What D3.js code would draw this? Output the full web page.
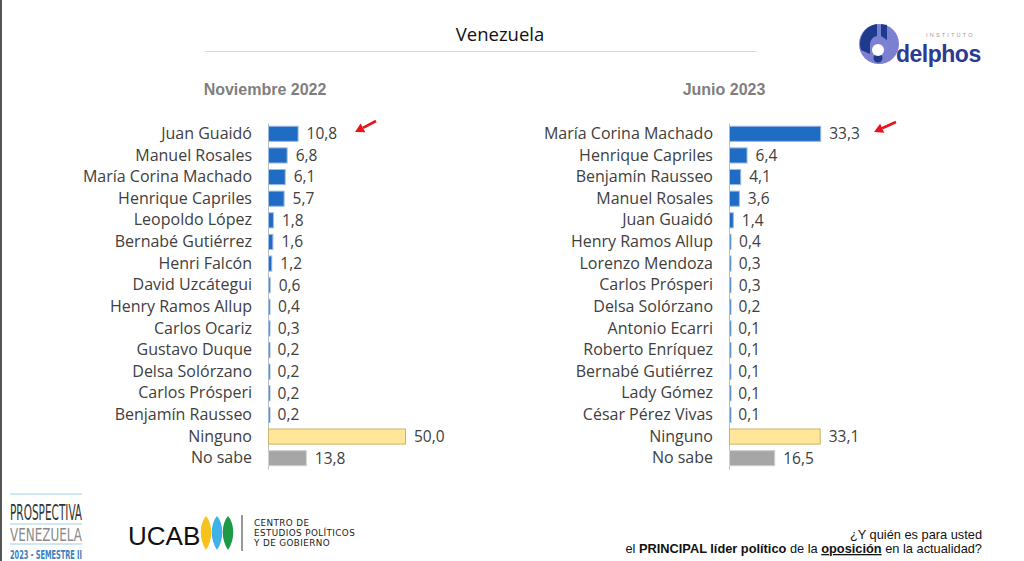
<!DOCTYPE html>
<html>
<head>
<meta charset="utf-8">
<script src="https://cdn.jsdelivr.net/npm/d3@7"></script>
<style>
  html, body { margin: 0; padding: 0; background: #fff; }
  svg { display: block; }
</style>
</head>
<body>
<svg id="chart" width="1024" height="561"></svg>
<script>
const namesNov = ["Juan Guaidó", "Manuel Rosales", "María Corina Machado", "Henrique Capriles",
  "Leopoldo López", "Bernabé Gutiérrez", "Henri Falcón", "David Uzcátegui", "Henry Ramos Allup",
  "Carlos Ocariz", "Gustavo Duque", "Delsa Solórzano", "Carlos Prósperi", "Benjamín Rausseo",
  "Ninguno", "No sabe"]
const valuesNov = [10.8, 6.8, 6.1, 5.7, 1.8, 1.6, 1.2, 0.6, 0.4, 0.3, 0.2, 0.2, 0.2, 0.2, 50.0, 13.8]

const namesJun = ["María Corina Machado", "Henrique Capriles", "Benjamín Rausseo", "Manuel Rosales",
  "Juan Guaidó", "Henry Ramos Allup", "Lorenzo Mendoza", "Carlos Prósperi", "Delsa Solórzano",
  "Antonio Ecarri", "Roberto Enríquez", "Bernabé Gutiérrez", "Lady Gómez", "César Pérez Vivas",
  "Ninguno", "No sabe"]
const valuesJun = [33.3, 6.4, 4.1, 3.6, 1.4, 0.4, 0.3, 0.3, 0.2, 0.1, 0.1, 0.1, 0.1, 0.1, 33.1, 16.5]

const panelTitles = ["Noviembre 2022", "Junio 2023"]

const svg = d3.select("#chart")
const fmt = d3.formatLocale({decimal: ",", thousands: ".", grouping: [3], currency: ["", ""]}).format(".1f")
const labelFont = "'Open Sans', 'Liberation Sans', sans-serif"

function barFill(name) {
  if (name === "Ninguno") return "#ffe699"
  if (name === "No sabe") return "#a6a6a6"
  return "#1f6cc4"
}
function barStroke(name) {
  if (name === "Ninguno") return "#c9b46e"
  if (name === "No sabe") return "#d0d0d0"
  return "#9dbbe2"
}

const x = d3.scaleLinear().domain([0, 50]).range([0, 137])

function drawPanel(names, values, x0, title, titleX) {
  const rows = names.map((n, i) => ({name: n, value: values[i]}))
  const y = d3.scaleBand().domain(names).range([123, 469]).paddingInner(0.3).paddingOuter(0.15)
  const g = svg.append("g").attr("transform", `translate(${x0},0)`)

  svg.append("text").attr("x", titleX).attr("y", 95)
    .attr("text-anchor", "middle").attr("font-family", "'Liberation Sans', Arial, sans-serif")
    .attr("font-weight", "bold").attr("font-size", 16).attr("fill", "#7f7f7f").text(title)

  const axis = g.append("g").call(d3.axisLeft(y).tickSize(0).tickPadding(16))
  axis.select(".domain").attr("stroke", "#bfbfbf").attr("stroke-width", 1)
  axis.selectAll("text").attr("font-family", labelFont).attr("font-size", 16).attr("fill", "#404040")

  g.selectAll("rect.bar").data(rows).join("rect").attr("class", "bar")
    .attr("x", 0.5).attr("y", d => y(d.name))
    .attr("width", d => Math.max(x(d.value), 1.5)).attr("height", y.bandwidth())
    .attr("fill", d => barFill(d.name)).attr("stroke", d => barStroke(d.name)).attr("stroke-width", 1)

  g.selectAll("text.val").data(rows).join("text").attr("class", "val")
    .attr("x", d => x(d.value) + 9).attr("y", d => y(d.name) + y.bandwidth() / 2)
    .attr("dy", "0.35em").attr("font-family", labelFont).attr("font-size", 15.5).attr("fill", "#404040")
    .text(d => fmt(d.value))

  return {g, y}
}

// header
svg.append("rect").attr("x", 0).attr("y", 0).attr("width", 2).attr("height", 561).attr("fill", "#555")
svg.append("text").attr("x", 500).attr("y", 41).attr("text-anchor", "middle")
  .attr("font-family", labelFont).attr("font-size", 18.5).attr("fill", "#111").text("Venezuela")
svg.append("line").attr("x1", 205).attr("x2", 757).attr("y1", 51.5).attr("y2", 51.5)
  .attr("stroke", "#d9d9d9").attr("stroke-width", 1)

const left = drawPanel(namesNov, valuesNov, 268, panelTitles[0], 265)
const right = drawPanel(namesJun, valuesJun, 729, panelTitles[1], 724)

// red arrows pointing to the leaders
function arrow(fromX, fromY, toX, toY) {
  const ang = Math.atan2(toY - fromY, toX - fromX)
  const hl = 9, hw = 5
  const bx = toX - hl * Math.cos(ang), by = toY - hl * Math.sin(ang)
  svg.append("line").attr("x1", fromX).attr("y1", fromY).attr("x2", bx).attr("y2", by)
    .attr("stroke", "#e8141b").attr("stroke-width", 2.6)
  svg.append("path").attr("fill", "#e8141b")
    .attr("d", `M${toX},${toY}L${bx + hw * Math.sin(ang)},${by - hw * Math.cos(ang)}L${bx - hw * Math.sin(ang)},${by + hw * Math.cos(ang)}Z`)
}
arrow(376, 121, 355, 132)
arrow(896, 122, 874, 132)

// delphos logo
const logo = svg.append("g")
logo.append("circle").attr("cx", 879).attr("cy", 44).attr("r", 20).attr("fill", "#7b80d2")
logo.append("path").attr("fill", "#1d3a8c")
  .attr("d", "M861,50 A20,20 0 0 1 877,24 L877,36 A8,8 0 0 0 870,44 L870,54 Z")
logo.append("path").attr("fill", "#1d3a8c").attr("d", "M881,24 L887,25 L887,40 L881,36 Z")
logo.append("circle").attr("cx", 878).attr("cy", 58).attr("r", 4.5).attr("fill", "#1d3a8c")
logo.append("circle").attr("cx", 878).attr("cy", 50).attr("r", 6).attr("fill", "#fff")
logo.append("text").attr("x", 926).attr("y", 37).attr("font-family", "'Liberation Sans', sans-serif")
  .attr("font-size", 5.5).attr("letter-spacing", 2.2).attr("fill", "#9a9a9a").text("INSTITUTO")
logo.append("text").attr("x", 896).attr("y", 62).attr("font-family", "'Liberation Sans', sans-serif")
  .attr("font-weight", "bold").attr("font-size", 23).attr("letter-spacing", -0.5).attr("fill", "#2b3a93").text("delphos")

// prospectiva logo: condensed text, stretched vertically
const pv = svg.append("g").attr("font-family", "'DejaVu Sans Condensed', 'Liberation Sans Narrow', sans-serif")
pv.append("line").attr("x1", 10).attr("x2", 82).attr("y1", 494).attr("y2", 494).attr("stroke", "#9fd0e6")
pv.append("g").attr("transform", "translate(46,520) scale(1,1.9)")
  .append("text").attr("text-anchor", "middle")
  .attr("font-size", 11.5).attr("textLength", 72).attr("lengthAdjust", "spacingAndGlyphs").attr("fill", "#333").text("PROSPECTIVA")
pv.append("line").attr("x1", 10).attr("x2", 82).attr("y1", 524).attr("y2", 524).attr("stroke", "#9fd0e6")
pv.append("g").attr("transform", "translate(46,541) scale(1,1.45)")
  .append("text").attr("text-anchor", "middle")
  .attr("font-size", 12).attr("textLength", 72).attr("lengthAdjust", "spacingAndGlyphs").attr("fill", "#8a8a8a").text("VENEZUELA")
pv.append("line").attr("x1", 10).attr("x2", 82).attr("y1", 544).attr("y2", 544).attr("stroke", "#9fd0e6")
pv.append("g").attr("transform", "translate(46,559) scale(1,1.7)")
  .append("text").attr("text-anchor", "middle").attr("font-weight", "bold")
  .attr("font-size", 7.5).attr("textLength", 72).attr("lengthAdjust", "spacingAndGlyphs").attr("fill", "#3b7fbf").text("2023 - SEMESTRE II")

// UCAB logo
const uc = svg.append("g")
uc.append("text").attr("x", 128).attr("y", 545).attr("font-family", "'Liberation Sans', sans-serif")
  .attr("font-size", 26).attr("fill", "#111").text("UCAB")
const leafColors = ["#f6c21b", "#3fb2e6", "#1e9a46"]
leafColors.forEach((c, i) => {
  const cx = 206 + i * 11
  uc.append("path").attr("fill", c)
    .attr("d", `M${cx},516 C${cx + 7},524 ${cx + 7},540 ${cx},550 C${cx - 7},540 ${cx - 7},524 ${cx},516 Z`)
})
uc.append("line").attr("x1", 242).attr("x2", 242).attr("y1", 515).attr("y2", 551).attr("stroke", "#333")
;["CENTRO DE", "ESTUDIOS POLÍTICOS", "Y DE GOBIERNO"].forEach((t, i) => {
  uc.append("text").attr("x", 254).attr("y", 526 + i * 10).attr("font-family", "'DejaVu Sans', sans-serif")
    .attr("font-size", 8.8).attr("letter-spacing", 0.4).attr("fill", "#222").text(t)
})

// question
const q = svg.append("g").attr("font-family", "'Liberation Sans', Arial, sans-serif").attr("font-size", 12.8).attr("fill", "#111")
q.append("text").attr("x", 982).attr("y", 539).attr("text-anchor", "end").text("¿Y quién es para usted")
const q2 = q.append("text").attr("x", 982).attr("y", 553).attr("text-anchor", "end")
q2.append("tspan").text("el ")
q2.append("tspan").attr("font-weight", "bold").text("PRINCIPAL líder político")
q2.append("tspan").text(" de la ")
q2.append("tspan").attr("font-weight", "bold").attr("text-decoration", "underline").text("oposición")
q2.append("tspan").text(" en la actualidad?")
</script>
</body>
</html>
